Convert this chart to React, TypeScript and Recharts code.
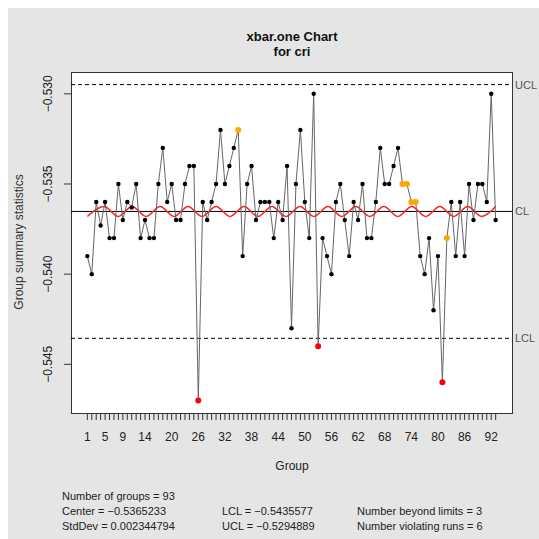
import React from "react";
import {
  ComposedChart,
  Line,
  XAxis,
  YAxis,
  ReferenceLine,
} from "recharts";

// group summary statistics (93 groups)
const stats = [
  -0.539, -0.54, -0.536, -0.5373, -0.536, -0.538, -0.538, -0.535, -0.537, -0.536,
  -0.5363, -0.535, -0.538, -0.537, -0.538, -0.538, -0.535, -0.533, -0.536, -0.535,
  -0.537, -0.537, -0.535, -0.534, -0.534, -0.547, -0.536, -0.537, -0.536, -0.535,
  -0.532, -0.535, -0.534, -0.533, -0.532, -0.539, -0.535, -0.534, -0.537, -0.536,
  -0.536, -0.536, -0.538, -0.536, -0.537, -0.534, -0.543, -0.535, -0.532, -0.536,
  -0.538, -0.53, -0.544, -0.538, -0.539, -0.54, -0.536, -0.535, -0.537, -0.539,
  -0.536, -0.537, -0.535, -0.538, -0.538, -0.536, -0.533, -0.535, -0.535, -0.534,
  -0.533, -0.535, -0.535, -0.536, -0.536, -0.539, -0.54, -0.538, -0.542, -0.539,
  -0.546, -0.538, -0.536, -0.539, -0.536, -0.539, -0.535, -0.537, -0.535, -0.535,
  -0.536, -0.53, -0.537,
];
const beyondLimits = [26, 53, 81];
const violatingRuns = [35, 72, 73, 74, 75, 82];

const center = -0.5365233;
const lcl = -0.5435577;
const ucl = -0.5294889;

// red wavy curve: turning points (group, value)
const waveGroups = [
  1, 4.8, 7.95, 11.1, 14.25, 17.4, 20.55, 23.7, 26.85, 30, 33.15, 36.3, 39.45, 42.6, 45.75,
  48.9, 52.05, 55.2, 58.35, 61.5, 64.65, 67.8, 70.95, 74.1, 77.25, 80.4, 83.55, 86.7, 89.85, 93,
];
const waveValues = [
  -0.5368, -0.53625, -0.5368, -0.53625, -0.5368, -0.53625, -0.5368, -0.53625, -0.5368, -0.53625,
  -0.5368, -0.53625, -0.5368, -0.53625, -0.5368, -0.53625, -0.5368, -0.53625, -0.5368, -0.53625,
  -0.5368, -0.53625, -0.5368, -0.53625, -0.5368, -0.53625, -0.5368, -0.53625, -0.5368, -0.53625,
];

const xLabels = [1, 5, 9, 14, 20, 26, 32, 38, 44, 50, 56, 62, 68, 74, 80, 86, 92];
const yTicks = [-0.545, -0.54, -0.535, -0.53];

const groups = stats.map((_, i) => i + 1);
const rows = stats.map((v, i) => ({ group: i + 1, value: v }));
const wave = waveGroups.map((g, i) => ({ group: g, wave: waveValues[i] }));

const FONT = '"Liberation Sans", Arial, sans-serif';
const minus = (s: string) => s.replace("-", "\u2212");

const XTick = ({ x, payload }: any) =>
  xLabels.includes(payload.value) ? (
    <text x={x} y={433} textAnchor="middle" fontSize={12} fill="#222">
      {payload.value}
    </text>
  ) : (
    <g />
  );

const YTick = ({ y, payload }: any) => (
  <text
    transform={`translate(44,${y}) rotate(-90)`}
    textAnchor="middle"
    fontSize={12}
    fill="#222"
  >
    {minus(payload.value.toFixed(3))}
  </text>
);

const Dot = ({ cx, cy, payload }: any) => {
  const g = payload.group;
  if (beyondLimits.includes(g))
    return <circle key={g} cx={cx} cy={cy} r={3} fill="#ff0000" />;
  if (violatingRuns.includes(g))
    return <circle key={g} cx={cx} cy={cy} r={3} fill="#ffa500" />;
  return <circle key={g} cx={cx} cy={cy} r={2.2} fill="#000" />;
};

const textStyle: React.CSSProperties = {
  position: "absolute",
  fontSize: 11,
  color: "#222",
  whiteSpace: "nowrap",
  lineHeight: "13px",
};

const limitLabel = (value: string) => ({
  value,
  position: "right" as const,
  fill: "#555",
  fontSize: 11,
  offset: 3,
});

export default function App() {
  return (
    <div
      style={{
        position: "fixed",
        left: 8,
        top: 8,
        width: 531,
        height: 531,
        background: "#e5e5e5",
        fontFamily: FONT,
      }}
    >
      <style>{"body{margin:0;overflow:hidden}"}</style>
      <div
        style={{
          position: "absolute",
          left: 63,
          top: 64,
          width: 442,
          height: 342,
          boxSizing: "border-box",
          border: "1px solid #333",
          background: "#fff",
        }}
      />
      <div
        style={{
          position: "absolute",
          left: 63,
          width: 442,
          top: 21,
          textAlign: "center",
          fontWeight: "bold",
          fontSize: 13,
          lineHeight: "15px",
          color: "#111",
        }}
      >
        xbar.one Chart
        <br />
        for cri
      </div>
      <div
        style={{
          position: "absolute",
          left: 11,
          top: 234,
          transform: "translate(-50%,-50%) rotate(-90deg)",
          fontSize: 12,
          color: "#333",
          whiteSpace: "nowrap",
        }}
      >
        Group summary statistics
      </div>
      <div
        style={{
          position: "absolute",
          left: 63,
          width: 442,
          top: 451,
          textAlign: "center",
          fontSize: 12,
          color: "#222",
        }}
      >
        Group
      </div>
      <div style={{ ...textStyle, left: 54, top: 482 }}>Number of groups = 93</div>
      <div style={{ ...textStyle, left: 54, top: 497 }}>Center = {"\u2212"}0.5365233</div>
      <div style={{ ...textStyle, left: 54, top: 512 }}>StdDev = 0.002344794</div>
      <div style={{ ...textStyle, left: 214, top: 497 }}>LCL = {"\u2212"}0.5435577</div>
      <div style={{ ...textStyle, left: 214, top: 512 }}>UCL = {"\u2212"}0.5294889</div>
      <div style={{ ...textStyle, left: 349, top: 497 }}>Number beyond limits = 3</div>
      <div style={{ ...textStyle, left: 349, top: 512 }}>Number violating runs = 6</div>

      <div style={{ position: "absolute", left: 0, top: 0 }}>
        <ComposedChart
          width={531}
          height={522}
          data={rows}
          margin={{ top: 64, right: 27, bottom: 87, left: 8 }}
        >
          <XAxis
            dataKey="group"
            type="number"
            domain={[-2.68, 96.68]}
            ticks={groups}
            interval={0}
            tick={<XTick />}
            tickSize={7}
            tickLine={{ stroke: "#333" }}
            axisLine={false}
            height={30}
            allowDataOverflow
          />
          <YAxis
            type="number"
            domain={[-0.5477, -0.52879]}
            ticks={yTicks}
            tick={<YTick />}
            tickSize={7}
            tickLine={{ stroke: "#333" }}
            axisLine={false}
            width={55}
            allowDataOverflow
          />
          <ReferenceLine y={ucl} stroke="#000" strokeDasharray="4 3" label={limitLabel("UCL")} />
          <ReferenceLine y={center} stroke="#000" label={limitLabel("CL")} />
          <ReferenceLine y={lcl} stroke="#000" strokeDasharray="4 3" label={limitLabel("LCL")} />
          <Line
            data={wave}
            dataKey="wave"
            type="monotone"
            stroke="#ff2020"
            strokeWidth={1.5}
            dot={false}
            isAnimationActive={false}
          />
          <Line
            dataKey="value"
            type="linear"
            stroke="#666"
            strokeWidth={1}
            dot={Dot}
            isAnimationActive={false}
          />
        </ComposedChart>
      </div>
    </div>
  );
}
